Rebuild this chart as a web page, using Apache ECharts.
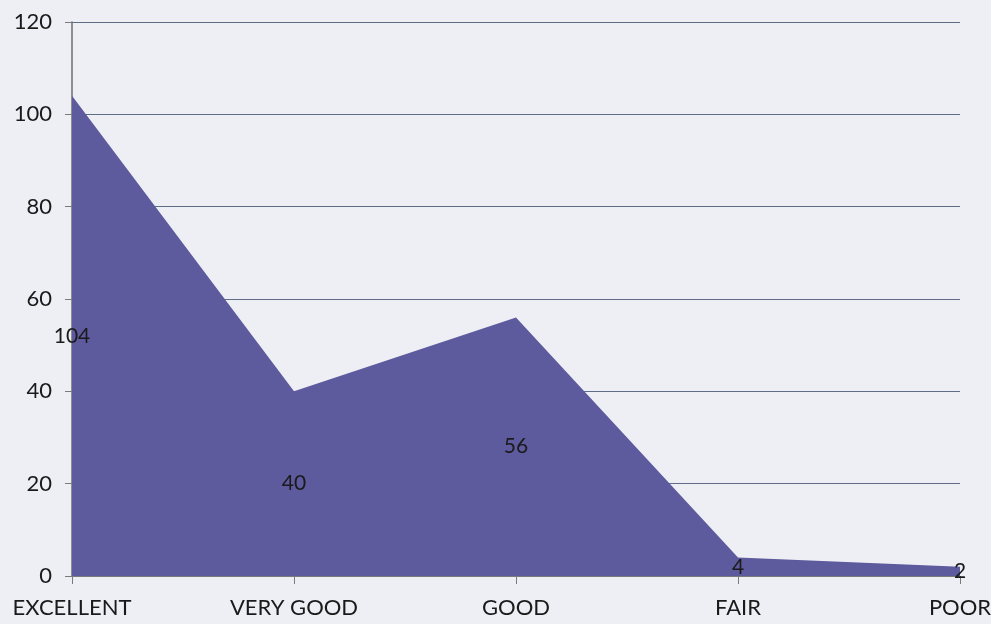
<!DOCTYPE html>
<html>
<head>
<meta charset="utf-8">
<script src="https://cdn.jsdelivr.net/npm/echarts@6/dist/echarts.min.js"></script>
<style>
  html, body { margin: 0; padding: 0; background: #eeeef5; }
  #chart { width: 991px; height: 624px; }
</style>
</head>
<body>
<div id="chart"></div>
<script>
var categories = ['EXCELLENT', 'VERY GOOD', 'GOOD', 'FAIR', 'POOR'];
var values = [104, 40, 56, 4, 2];
var yTicks = { min: 0, max: 120, interval: 20 };

var chart = echarts.init(document.getElementById('chart'));
var font = 'Lato, "Open Sans", sans-serif';

var option = {
    backgroundColor: '#eeeef5',
    animation: false,
    grid: { left: 72, right: 31, top: 22, bottom: 48, outerBoundsMode: 'none', containLabel: false },
    xAxis: {
        type: 'category',
        data: categories,
        boundaryGap: false,
        axisLine: { show: true, lineStyle: { color: '#7a7a7a', width: 1 } },
        axisTick: { show: true, alignWithLabel: true, length: 8, lineStyle: { color: '#7a7a7a' } },
        axisLabel: { color: '#1a1a1a', fontSize: 22, fontFamily: font, margin: 21, interval: 0 },
        splitLine: { show: false }
    },
    yAxis: {
        type: 'value',
        min: yTicks.min,
        max: yTicks.max,
        interval: yTicks.interval,
        axisLine: { show: true, lineStyle: { color: '#6e6e6e', width: 1.5 } },
        axisTick: { show: true, length: 7, lineStyle: { color: '#7a7a7a' } },
        axisLabel: { color: '#1a1a1a', fontSize: 22, fontFamily: font, margin: 20 },
        splitLine: { show: true, lineStyle: { color: '#5e6e86', width: 1.2 } }
    },
    series: [{
        type: 'line',
        data: values,
        showSymbol: true,
        symbolSize: 0,
        lineStyle: { width: 0 },
        areaStyle: { color: '#5e5a9e', opacity: 1 },
        label: {
            show: true,
            color: '#1a1a1a',
            fontSize: 21,
            fontFamily: font
        },
        labelLayout: function (params) {
            var i = params.dataIndex;
            var pt = chart.convertToPixel({ xAxisIndex: 0, yAxisIndex: 0 }, [i, values[i] / 2]);
            if (!pt) return {};
            return { x: pt[0], y: pt[1], align: 'center', verticalAlign: 'middle' };
        }
    }]
};
chart.setOption(option);
chart.setOption({ series: [{ labelLayout: option.series[0].labelLayout }] });
</script>
</body>
</html>
